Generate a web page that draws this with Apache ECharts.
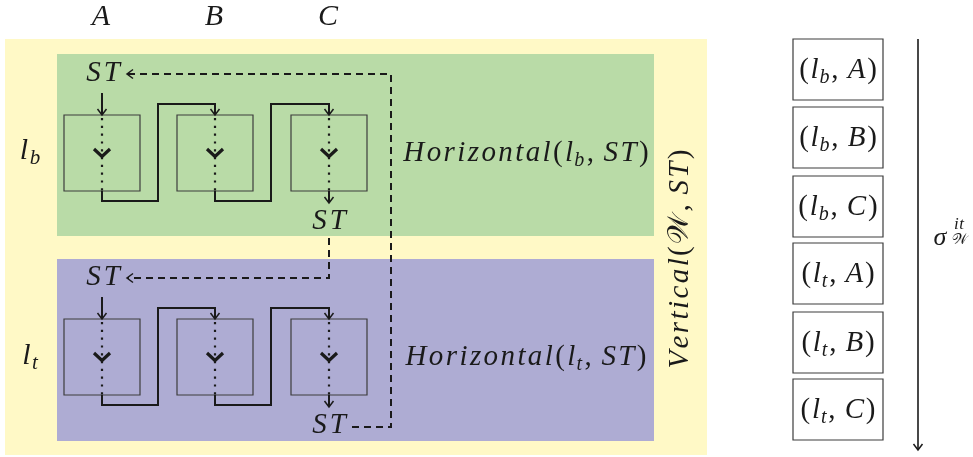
<!DOCTYPE html>
<html><head><meta charset="utf-8">
<script src="https://cdn.jsdelivr.net/npm/echarts@6/dist/echarts.min.js"></script>
<style>html,body{margin:0;padding:0;background:#fff}#c{width:973px;height:457px}</style>
</head><body><div id="c"></div><script>
// ---- diagram data (diagram coordinate space) ----
const columns = ['A', 'B', 'C'];
const columnX = [102, 215, 329];
const rows = ['b', 't'];                 // l_b, l_t
const rowBand = [[54, 236], [259, 441]];
const rowBoxTop = [115, 319];
const outerBand = [5, 39, 707, 455];
const bandX = [57, 654];
const orderItems = [['b', 'A'], ['b', 'B'], ['b', 'C'], ['t', 'A'], ['t', 'B'], ['t', 'C']];
const orderTop = [39, 107, 176, 243, 312, 379];

// ---- geometry helpers (derived) ----
const BOX_HALF = 38, BOX_H = 76;
const panelRects = [outerBand].concat(rowBand.map(b => [bandX[0], b[0], bandX[1], b[1]]));
const panelFills = ['#fff9c6', '#b9dba7', '#aeacd3'];

const cellRects = [];
rowBoxTop.forEach(t => columnX.forEach(x => cellRects.push([x - BOX_HALF, t, x + BOX_HALF, t + BOX_H])));
const orderRects = orderTop.map(t => [793, t, 883, t + 61]);

const solidPaths = [], dottedPaths = [], arrowTips = [], chevrons = [];
rowBoxTop.forEach(t => {
  const b = t + BOX_H;
  const x0 = columnX[0];
  solidPaths.push([[x0, t - 22], [x0, t]]);
  arrowTips.push([x0, t, 0]);
  columnX.forEach((x, i) => {
    dottedPaths.push([[x, t + 3], [x, b]]);
    chevrons.push([x, t + BOX_H / 2]);
    if (i < columnX.length - 1) {
      const xn = columnX[i + 1], xm = x + 56;
      solidPaths.push([[x, b], [x, b + 10], [xm, b + 10], [xm, t - 11], [xn, t - 11], [xn, t]]);
      arrowTips.push([xn, t, 0]);
    }
  });
  const xl = columnX[columnX.length - 1];
  solidPaths.push([[xl, b], [xl, b + 12]]);
  arrowTips.push([xl, b + 12, 0]);
});
const dashedPaths = [
  [[329, 238], [329, 278], [128, 278]],
  [[352, 427], [391, 427], [391, 74], [128, 74]]
];
arrowTips.push([127, 278, 1], [127, 74, 1]);
const orderArrow = [[918, 39], [918, 450]];
arrowTips.push([918, 450, 0]);

// ---- text ----
const IT = {fontFamily: 'Liberation Serif', fontStyle: 'italic', fill: '#1a1a1a'};
const RM = {fontFamily: 'Liberation Serif', fill: '#1a1a1a'};
function richStyles(fs, k) {
  const p = Math.round(fs * k * 10) / 10;
  return {
    i: Object.assign({}, IT, {fontSize: fs, lineHeight: fs + 6, padding: [0, p, 0, p]}),
    r: Object.assign({}, RM, {fontSize: fs, lineHeight: fs + 6, padding: [0, p, 0, p]}),
    s: Object.assign({}, IT, {fontSize: Math.round(fs * 0.7), lineHeight: Math.round(fs * 0.55), verticalAlign: 'bottom', padding: [0, p, 0, 0]}),
    w: {fontFamily: 'DejaVu Sans', fontSize: fs, lineHeight: fs + 6, fill: '#1a1a1a', padding: [0, p, 0, p]}
  };
}
const mi = s => s.split('').map(c => '{i|' + c + '}').join('');
const labels = [];
columns.forEach((c, i) => labels.push({x: columnX[i] - 1, y: 17, t: mi(c), fs: 30}));
rows.forEach((r, i) => labels.push({x: 30, y: (rowBand[i][0] + rowBand[i][1]) / 2 + 6, t: mi('l') + '{s|' + r + '}', fs: 30}));
rowBoxTop.forEach(t => {
  labels.push({x: columnX[0] + 1, y: t - 42, t: mi('ST'), fs: 29});
  labels.push({x: columnX[2], y: t + BOX_H + 30, t: mi('ST'), fs: 29});
});
rows.forEach((r, i) => labels.push({x: 526, y: rowBoxTop[i] + 38, t: mi('Horizontal') + '{r|(}' + mi('l') + '{s|' + r + '}{r|, }' + mi('ST') + '{r|)}', fs: 29, k: 0.042}));
labels.push({x: 680, y: 259, t: mi('Vertical') + '{r|(}{w|𝒲}{r|, }' + mi('ST') + '{r|)}', fs: 29, k: 0.042, rot: Math.PI / 2});
orderItems.forEach((o, i) => labels.push({x: 838, y: orderTop[i] + 31, t: '{r|(}' + mi('l') + '{s|' + o[0] + '}{r|, }' + mi(o[1]) + '{r|)}', fs: 29, k: 0.03}));
labels.push({x: 940, y: 238, t: mi('σ'), fs: 26});
labels.push({x: 959, y: 225, t: mi('it'), fs: 17, k: 0.02});
labels.push({x: 960, y: 240, t: '{w|𝒲}', fs: 15});

// ---- chart ----
const chart = echarts.init(document.getElementById('c'));
const idx = arr => arr.map((_, i) => [i]);
function polySeries(name, paths, style) {
  return {
    type: 'custom', name, silent: true, data: idx(paths),
    renderItem: (p, api) => ({
      type: 'polyline',
      shape: {points: paths[api.value(0)].map(pt => api.coord(pt))},
      style: Object.assign({fill: null, stroke: '#1a1a1a'}, style)
    })
  };
}
function rectSeries(name, rects, styleFn) {
  return {
    type: 'custom', name, silent: true, data: idx(rects),
    renderItem: (p, api) => {
      const r = rects[api.value(0)];
      const a = api.coord([r[0], r[1]]), b = api.coord([r[2], r[3]]);
      return {type: 'rect', shape: {x: a[0], y: a[1], width: b[0] - a[0], height: b[1] - a[1]}, style: styleFn(api.value(0))};
    }
  };
}
chart.setOption({
  animation: false,
  grid: {left: 0, right: 0, top: 0, bottom: 0},
  xAxis: {type: 'value', min: 0, max: 973, show: false},
  yAxis: {type: 'value', min: 0, max: 457, inverse: true, show: false},
  series: [
    rectSeries('panels', panelRects, i => ({fill: panelFills[i]})),
    rectSeries('cells', cellRects, () => ({fill: null, stroke: '#3c3c3c', lineWidth: 1.2})),
    rectSeries('order', orderRects, () => ({fill: '#fff', stroke: '#3c3c3c', lineWidth: 1.2})),
    polySeries('flow', solidPaths, {lineWidth: 2}),
    polySeries('inside', dottedPaths, {lineWidth: 2.2, lineDash: [2.2, 5.6]}),
    polySeries('jump', dashedPaths, {lineWidth: 2, lineDash: [7, 5]}),
    polySeries('orderArrow', [orderArrow], {lineWidth: 1.6}),
    {
      type: 'custom', name: 'chevrons', silent: true, data: chevrons,
      renderItem: (p, api) => {
        const c = api.coord([api.value(0), api.value(1)]);
        return {type: 'polyline', shape: {points: [[c[0] - 8, c[1] - 4], [c[0], c[1] + 3.5], [c[0] + 8, c[1] - 4]]},
          style: {fill: null, stroke: '#1a1a1a', lineWidth: 3.2}};
      }
    },
    {
      type: 'custom', name: 'tips', silent: true, data: arrowTips,
      renderItem: (p, api) => {
        const c = api.coord([api.value(0), api.value(1)]);
        const d = api.value(2);
        const pts = d === 0
          ? [[c[0] - 4.5, c[1] - 6], [c[0], c[1]], [c[0] + 4.5, c[1] - 6]]
          : [[c[0] + 6, c[1] - 4.5], [c[0], c[1]], [c[0] + 6, c[1] + 4.5]];
        return {type: 'polyline', shape: {points: pts}, style: {fill: null, stroke: '#1a1a1a', lineWidth: 1.5}};
      }
    },
    {
      type: 'custom', name: 'labels', silent: true, data: idx(labels),
      renderItem: (p, api) => {
        const L = labels[api.value(0)];
        const c = api.coord([L.x, L.y]);
        return {type: 'text', x: c[0], y: c[1], rotation: L.rot || 0,
          style: {text: L.t, rich: richStyles(L.fs, L.k == null ? 0.05 : L.k), align: 'center', verticalAlign: 'middle'}};
      }
    }
  ]
});
</script></body></html>
